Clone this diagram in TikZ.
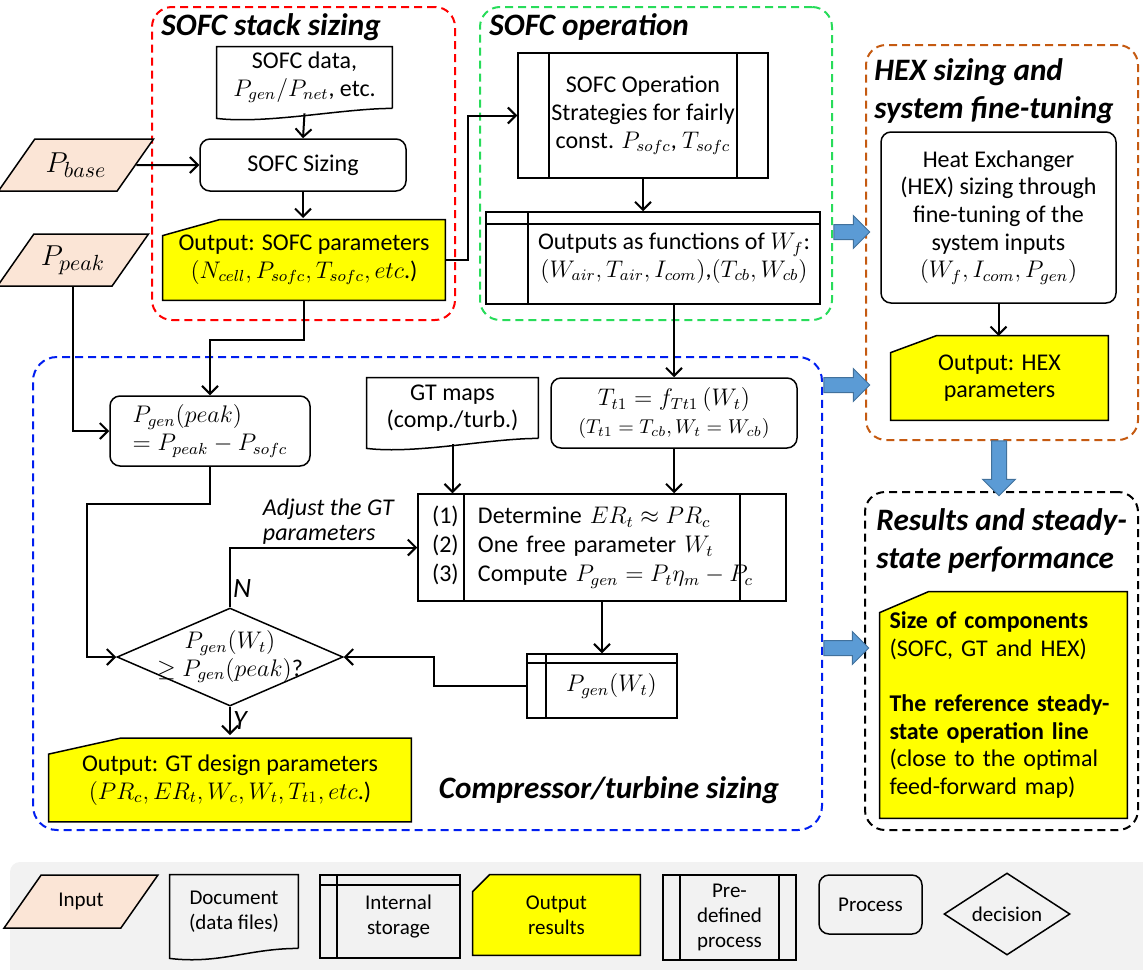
\documentclass[tikz,border=0pt]{standalone}
\usepackage{fontspec}
\setmainfont{Carlito}
\usetikzlibrary{calc,positioning,arrows.meta,shapes.geometric,shapes.arrows,backgrounds}

\definecolor{stackred}{RGB}{255,0,0}
\definecolor{opgreen}{RGB}{40,220,90}
\definecolor{ctblue}{RGB}{0,30,240}
\definecolor{hexorange}{RGB}{197,90,17}
\definecolor{inpfill}{RGB}{251,229,214}
\definecolor{outfill}{RGB}{255,255,0}
\definecolor{flowfill}{RGB}{91,155,213}
\definecolor{flowedge}{RGB}{65,113,156}
\definecolor{legendbg}{RGB}{242,242,242}

% outline of a document symbol (wavy bottom)
\newcommand{\docline}[1]{%
  \draw[line width=0.75pt] (#1.south east) -- (#1.north east) -- (#1.north west) -- ($(#1.south west)+(0,-5pt)$)
    .. controls ($(#1.south west)+(25pt,-8pt)$) and ($(#1.south east)+(-25pt,0pt)$) .. (#1.south east);}
% output symbol: box with the top left corner cut off
\newcommand{\outshape}[3]{%
  \filldraw[fill=outfill, line width=0.75pt] ($(#1.north west)+(#2,0)$) -- (#1.north east) -- (#1.south east)
    -- (#1.south west) -- ($(#1.north west)+(0,-#3)$) -- cycle;}

\begin{document}
\begin{tikzpicture}[x=0.5pt, y=-0.5pt,
    every node/.style={font=\fontsize{12}{13.8}\selectfont},
    grp/.style={draw=#1, line width=1pt, dash pattern=on 4pt off 2.5pt, rounded corners=10pt, inner sep=0pt},
    grptitle/.style={font=\fontsize{15.6}{19}\selectfont\bfseries\itshape, align=left, inner sep=0pt},
    proc/.style={draw, line width=0.75pt, rounded corners=5pt, fill=white, align=center},
    inp/.style={trapezium, trapezium left angle=55, trapezium right angle=125, draw, line width=0.75pt,
      fill=inpfill, inner xsep=0pt, minimum width=29.5pt, font=\fontsize{15}{18}\selectfont},
    doc/.style={align=center, inner sep=2pt},
    predef/.style={draw, line width=0.75pt, fill=white, align=center,
      path picture={\draw[line width=0.75pt]
        ([xshift=#1]path picture bounding box.north west) -- ([xshift=#1]path picture bounding box.south west)
        ([xshift=-#1]path picture bounding box.north east) -- ([xshift=-#1]path picture bounding box.south east);}},
    store/.style 2 args={draw, line width=0.75pt, fill=white, align=center,
      path picture={\draw[line width=0.75pt]
        ([yshift=-#2]path picture bounding box.north west) -- ([yshift=-#2]path picture bounding box.north east)
        ([xshift=#1]path picture bounding box.north west) -- ([xshift=#1]path picture bounding box.south west);}},
    outbox/.style={align=center},
    decide/.style={diamond, draw, line width=0.75pt, fill=white, aspect=2.3, inner sep=0pt, align=center},
    conn/.style={line width=1pt, -{Straight Barb[length=4pt,width=8pt]}},
    bigarr/.style={single arrow, draw=flowedge, fill=flowfill, line width=0.5pt, inner sep=3.5pt,
      single arrow head extend=4.5pt, single arrow tip angle=90},
    lbl/.style={font=\fontsize{14}{16}\selectfont\itshape, inner sep=1pt},
    legend/.style={font=\fontsize{10.5}{12.5}\selectfont}
  ]
  \useasboundingbox (0,0) rectangle (1143,969);

  % group frames
  \node[grp=stackred, minimum width=151.5pt, minimum height=156.5pt] (stackgrp) at (303.5,163.5) {};
  \node[grp=opgreen, minimum width=176pt, minimum height=156.5pt] (opgrp) at (656,163.5) {};
  \node[grp=hexorange, minimum width=136pt, minimum height=197.5pt] (hexgrp) at (1002,242.5) {};
  \node[grp=black, minimum width=136.5pt, minimum height=169pt] (resgrp) at (1001.5,661) {};
  \node[grp=ctblue, minimum width=394.5pt, minimum height=236.5pt, rounded corners=12pt] (ctgrp) at (427.5,593.5) {};

  \node[grptitle, anchor=west] (stacktitle) at (161,27) {SOFC stack sizing};
  \node[grptitle, anchor=west] (optitle) at (489,27) {SOFC operation};
  \node[grptitle, anchor=north west] (hextitle) at (874,58) {HEX sizing and\\system fine-tuning};
  \node[grptitle, anchor=north west] (restitle) at (876,508) {Results and steady-\\state performance};
  \node[grptitle] (cttitle) at (609,790) {Compressor/turbine sizing};

  % SOFC stack sizing
  \node[doc, minimum width=87.5pt, minimum height=30.5pt] (sofcdata) at (304.5,77.5) {SOFC data,\\$P_{gen}/P_{net}$, etc.};
  \docline{sofcdata}
  \node[proc, minimum width=103pt, minimum height=26pt] (sofcsize) at (303,165) {SOFC Sizing};
  \node[outbox, minimum width=141pt, minimum height=40pt] (sofcout) at (304,260)
    {Output: SOFC parameters\\$(N_{cell},P_{sofc},T_{sofc},etc$.)};
  \node[inp, minimum height=26pt] (pbase) at (76,165) {$P_{base}$};
  \node[inp, minimum height=26pt] (ppeak) at (73,260) {$P_{peak}$};

  % SOFC operation
  \node[predef=15.5pt, minimum width=125pt, minimum height=62.5pt] (sofcstrat) at (643,115.5)
    {SOFC Operation\\Strategies for fairly\\const. $P_{sofc}$, $T_{sofc}$};
  \node[store={21pt}{6pt}, minimum width=167pt, minimum height=46pt] (sofcfun) at (653,258)
    {\hspace*{21pt}\begin{tabular}{@{}c@{}}Outputs as functions of $W_f$:\\$(W_{air},T_{air},I_{com})$,$(T_{cb},W_{cb})$\end{tabular}};

  % HEX sizing
  \node[proc, minimum width=117.5pt, minimum height=85.5pt] (hexproc) at (998.5,217.5)
    {Heat Exchanger\\(HEX) sizing through\\fine-tuning of the\\system inputs\\$(W_f,I_{com},P_{gen})$};
  \node[outbox, minimum width=108.5pt, minimum height=42pt] (hexout) at (999.5,378) {Output: HEX\\parameters};

  % results
  \node[outbox, minimum width=123.5pt, minimum height=113pt, align=left, text width=114pt, inner xsep=2pt]
    (resout) at (1003.5,705)
    {\textbf{Size of components}\\(SOFC, GT and HEX)\\[13.8pt]\textbf{The reference steady-}\\
     \textbf{state operation line}\\(close to the optimal\\feed-forward map)};

  % compressor/turbine sizing
  \node[proc, minimum width=100pt, minimum height=35pt, align=left] (pgenpeak) at (210,431)
    {$P_{gen}(peak)$\\$=P_{peak}-P_{sofc}$};
  \node[doc, minimum width=85.5pt, minimum height=30pt] (gtmaps) at (452.5,408) {GT maps\\(comp./turb.)};
  \docline{gtmaps}
  \node[proc, minimum width=123pt, minimum height=35pt] (ttone) at (674,413)
    {$T_{t1}=f_{Tt1}\,(W_t)$\\{\fontsize{10}{11}\selectfont$(T_{t1}=T_{cb},W_t=W_{cb})$}};
  \node[predef=23pt, minimum width=184pt, minimum height=53.5pt, align=left, text width=170pt, inner xsep=7pt,
    font=\fontsize{12}{14.5}\selectfont] (steps) at (602,547.5)
    {\makebox[23pt][l]{(1)}Determine $ER_t\approx PR_c$\\
     \makebox[23pt][l]{(2)}One free parameter $W_t$\\
     \makebox[23pt][l]{(3)}Compute $P_{gen}=P_t\eta_m-P_c$};
  \node[store={9.5pt}{4.5pt}, minimum width=75pt, minimum height=32pt] (pgenwt) at (602,686)
    {\hspace*{9.5pt}$P_{gen}(W_t)$};
  \node[decide, minimum width=113pt, minimum height=49pt] (check) at (230,657)
    {\makebox[0pt]{\begin{tabular}{@{}c@{}}$P_{gen}(W_t)$\\$\geq P_{gen}(peak)$?\end{tabular}}};
  \node[outbox, minimum width=181pt, minimum height=41.5pt] (gtout) at (230,780)
    {Output: GT design parameters\\$(PR_c,ER_t,W_c,W_t,T_{t1},etc$.)};

  % connectors
  \draw[conn] ($(sofcdata.south)+(0,-2.5pt)$) -- (sofcsize.north);
  \draw[conn] (sofcsize) -- (sofcsize |- 0,218);
  \draw[conn] (pbase.east) -- (sofcsize.west);
  \draw[conn] (ppeak.south) |- (pgenpeak.west);
  \draw[conn] (sofcout.east) -- ++(11.5pt,0) |- (sofcstrat.west);
  \draw[conn] (sofcstrat.south) -- (sofcstrat.south |- sofcfun.north);
  \draw[conn] (ttone.north |- sofcfun.south) -- (ttone.north);
  \draw[conn] (sofcout.south) -- ++(0,-20pt) -| (pgenpeak.north);
  \draw[conn] (pgenpeak.south) -- ++(0,-18.5pt) -- ++(-61.5pt,0) |- (check.west);
  \draw[conn] ($(gtmaps.south)+(0,-3pt)$) -- (gtmaps.south |- steps.north);
  \draw[conn] (ttone.south) -- (ttone.south |- steps.north);
  \draw[conn] (check.north) |- (steps.west)
    node[lbl, pos=0.16, anchor=west] {N}
    node[lbl, pos=0.58, anchor=south west, align=left, font=\fontsize{12}{12.5}\selectfont\itshape]
      {Adjust the GT\\parameters};
  \draw[conn] (steps.south) -- (pgenwt.north);
  \draw[conn] (pgenwt.west) -- ++(-46pt,0) |- (check.east);
  \draw[conn] (check.south) -- (check.south |- 0,735) node[lbl, midway, anchor=west] {Y};
  \draw[conn] (hexproc.south) -- (hexproc.south |- 0,336);

  % block arrows between stages
  \node[bigarr, minimum height=18pt] (flowop) at (848,232) {};
  \node[bigarr, minimum height=23pt] (flowct) at (843,385) {};
  \node[bigarr, minimum height=22.5pt] (flowres) at (842.5,648) {};
  \node[bigarr, minimum height=27.5pt, shape border rotate=270] (flowhex) at (999,464.5) {};

  % legend
  \node[inp, legend, minimum height=26.5pt] (leginp) at (81,901.5) {Input};
  \node[doc, legend, minimum width=64pt, minimum height=36.5pt] (legdoc) at (234,911.5) {Document\\(data files)};
  \docline{legdoc}
  \node[store={8.5pt}{5pt}, legend, fill=none, minimum width=70pt, minimum height=41.5pt] (legstore) at (390,916.5)
    {\hspace*{8.5pt}\begin{tabular}{@{}c@{}}Internal\\storage\end{tabular}};
  \node[outbox, legend, minimum width=83.5pt, minimum height=40pt] (legout) at (556.5,915) {Output\\results};
  \node[predef=8.5pt, legend, fill=none, minimum width=66.5pt, minimum height=42.5pt] (legpre) at (729.5,917.5)
    {Pre-\\defined\\process};
  \node[proc, legend, fill=none, minimum width=51.5pt, minimum height=29.5pt] (legproc) at (870.5,904.5) {Process};
  \node[decide, legend, fill=none, aspect=1.54, minimum width=63pt, minimum height=41pt] (legdec) at (1007,914) {decision};

  \begin{scope}[on background layer]
    \fill[legendbg, rounded corners=5pt] (10,862) rectangle (1170,990);
    \outshape{sofcout}{28.5pt}{8pt}
    \outshape{hexout}{23pt}{8.5pt}
    \outshape{resout}{24.5pt}{10.5pt}
    \outshape{gtout}{36pt}{8pt}
    \outshape{legout}{8.5pt}{8.5pt}
  \end{scope}
\end{tikzpicture}
\end{document}
